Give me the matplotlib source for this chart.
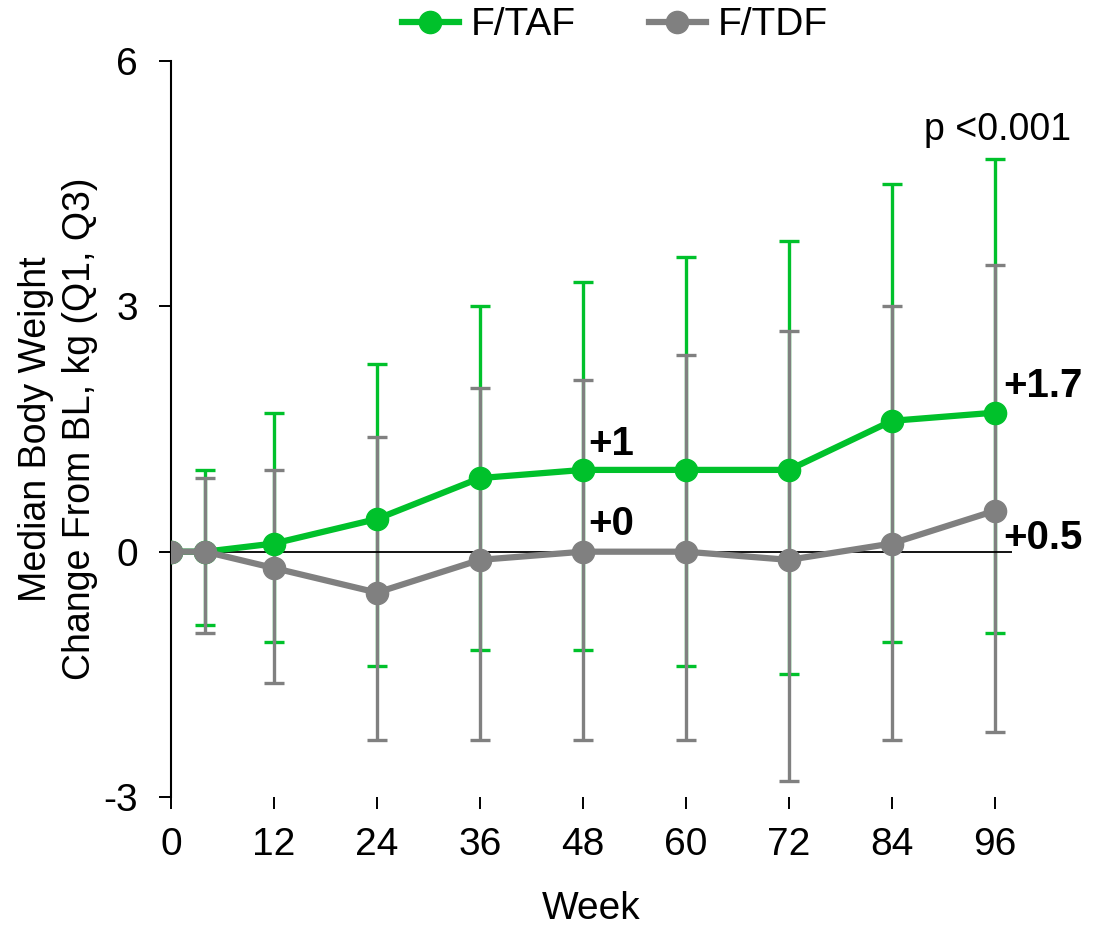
import matplotlib

matplotlib.use("Agg")
import matplotlib.pyplot as plt

plt.rcParams["font.family"] = ["Liberation Sans", "DejaVu Sans"]
plt.rcParams["axes.unicode_minus"] = False

GREEN = "#00C12B"
GREY = "#808080"

weeks = [0, 4, 12, 24, 36, 48, 60, 72, 84, 96]
tick_weeks = [0, 12, 24, 36, 48, 60, 72, 84, 96]

# F/TAF: median, Q1, Q3
taf_med = [0, 0, 0.1, 0.4, 0.9, 1.0, 1.0, 1.0, 1.6, 1.7]
taf_q1 = [0, -0.9, -1.1, -1.4, -1.2, -1.2, -1.4, -1.5, -1.1, -1.0]
taf_q3 = [0, 1.0, 1.7, 2.3, 3.0, 3.3, 3.6, 3.8, 4.5, 4.8]

# F/TDF: median, Q1, Q3
tdf_med = [0, 0, -0.2, -0.5, -0.1, 0.0, 0.0, -0.1, 0.1, 0.5]
tdf_q1 = [0, -1.0, -1.6, -2.3, -2.3, -2.3, -2.3, -2.8, -2.3, -2.2]
tdf_q3 = [0, 0.9, 1.0, 1.4, 2.0, 2.1, 2.4, 2.7, 3.0, 3.5]


def err(med, q1, q3):
    return [[m - a for m, a in zip(med, q1)], [b - m for m, b in zip(med, q3)]]


fig = plt.figure(figsize=(10.94, 9.27), dpi=100)
ax = fig.add_axes([0.1563, 0.1402, 0.7687, 0.794])

# error bars first (green under grey), then lines + markers
for med, q1, q3, c in ((taf_med, taf_q1, taf_q3, GREEN), (tdf_med, tdf_q1, tdf_q3, GREY)):
    ax.errorbar(weeks[1:], med[1:], yerr=err(med[1:], q1[1:], q3[1:]), fmt="none",
                ecolor=c, elinewidth=2.4, capsize=7, capthick=2.4)

ax.axhline(0, color="black", linewidth=1.3, zorder=2)

ax.plot(weeks, taf_med, "-o", color=GREEN, linewidth=4.5, markersize=16,
        label="F/TAF", zorder=4)
ax.plot(weeks, tdf_med, "-o", color=GREY, linewidth=4.5, markersize=16,
        label="F/TDF", zorder=5)

# value labels
bold = dict(fontsize=29, fontweight="bold", color="black", va="center", ha="left")
ax.text(48.6, 1.32, "+1", **bold)
ax.text(48.6, 0.34, "+0", **bold)
ax.text(97.0, 2.02, "+1.7", **bold)
ax.text(97.0, 0.17, "+0.5", **bold)
ax.text(96.3, 5.16, "p <0.001", fontsize=27, ha="center", va="center")

ax.set_xlim(0, 98)
ax.set_ylim(-3, 6)
ax.set_xticks(tick_weeks)
ax.set_yticks([-3, 0, 3, 6])
ax.tick_params(axis="both", labelsize=28, direction="out", length=8.6, width=1.4,
               colors="black")
ax.tick_params(axis="x", pad=13)
ax.tick_params(axis="y", pad=15)
for s in ("top", "right", "bottom"):
    ax.spines[s].set_visible(False)
ax.spines["left"].set_linewidth(1.5)
ax.spines["left"].set_bounds(-3, 6)

ax.set_xlabel("Week", fontsize=28, labelpad=20)
ax.set_ylabel("Median Body Weight\nChange From BL, kg (Q1, Q3)", fontsize=27,
              linespacing=1.3)
ax.yaxis.set_label_coords(-0.0868, 0.5)

fig.legend(loc="upper center", bbox_to_anchor=(0.562, 1.03), ncol=2, frameon=False,
           fontsize=28, handlelength=1.45, columnspacing=1.9, handletextpad=0.3)

fig.savefig("out.png")
